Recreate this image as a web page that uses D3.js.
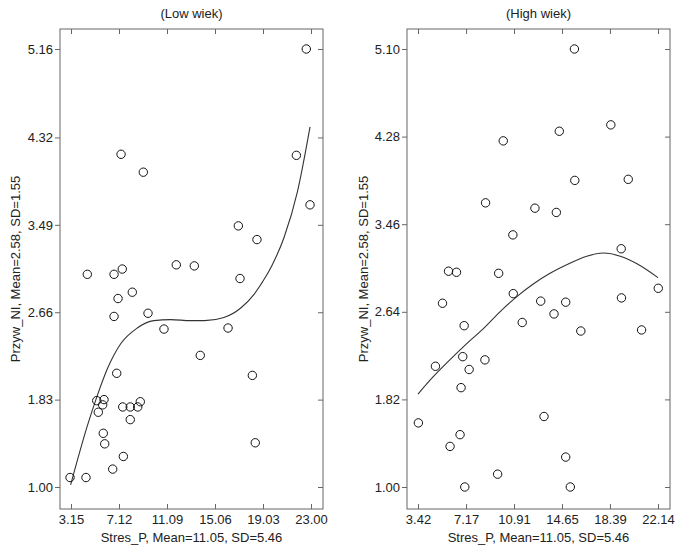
<!DOCTYPE html>
<html>
<head>
<meta charset="utf-8">
<script src="https://cdn.jsdelivr.net/npm/d3@7"></script>
<style>
  body { margin: 0; background: #fff; }
  svg text { font-family: "Liberation Sans", Arial, sans-serif; fill: #222; }
</style>
</head>
<body>
<div id="chart"></div>
<script>
// panel titles and axis labels
var panelTitles = ["(Low wiek)", "(High wiek)"];
var xLabel = "Stres_P, Mean=11.05, SD=5.46";
var yLabel = "Przyw_NI, Mean=2.58, SD=1.55";

// tick labels
var lowXTicks = [3.15, 7.12, 11.09, 15.06, 19.03, 23.00];
var lowYTicks = [1.00, 1.83, 2.66, 3.49, 4.32, 5.16];
var highXTicks = [3.42, 7.17, 10.91, 14.65, 18.39, 22.14];
var highYTicks = [1.00, 1.82, 2.64, 3.46, 4.28, 5.10];

// scatter points, low wiek  [stres, przyw]
var lowPoints = [
  [22.61, 5.16], [7.29, 4.16], [9.13, 3.99], [21.79, 4.15], [22.92, 3.68],
  [16.99, 3.48], [18.53, 3.35], [11.86, 3.11], [13.35, 3.10], [7.39, 3.07],
  [4.50, 3.02], [6.71, 3.02], [17.13, 2.98], [8.22, 2.85], [7.04, 2.79],
  [6.71, 2.62], [9.52, 2.65], [10.84, 2.50], [16.14, 2.51], [13.84, 2.25],
  [18.15, 2.06], [6.93, 2.08], [5.28, 1.82], [5.88, 1.83], [5.77, 1.78],
  [5.41, 1.71], [7.43, 1.76], [8.05, 1.76], [8.67, 1.76], [8.88, 1.81],
  [8.05, 1.64], [5.82, 1.51], [5.94, 1.41], [7.48, 1.29], [6.60, 1.17],
  [3.07, 1.09], [4.39, 1.09], [18.39, 1.42]
];
// fitted curve, low wiek
var lowFit = [
  [3.12, 1.02], [4.50, 1.58], [5.33, 1.87], [6.15, 2.12], [7.26, 2.36],
  [8.63, 2.51], [10.0, 2.58], [11.40, 2.59], [13.05, 2.58], [14.2, 2.58],
  [15.80, 2.61], [17.19, 2.70], [18.29, 2.83], [19.11, 2.97], [19.75, 3.10],
  [20.77, 3.37], [21.87, 3.80], [22.92, 4.42]
];

// scatter points, high wiek
var highPoints = [
  [15.62, 5.10], [18.46, 4.39], [14.44, 4.33], [10.07, 4.24], [15.65, 3.87],
  [19.82, 3.88], [8.69, 3.66], [12.54, 3.61], [14.21, 3.57], [10.82, 3.36],
  [19.27, 3.23], [5.80, 3.02], [6.42, 3.01], [9.71, 3.00], [22.16, 2.86],
  [10.85, 2.81], [19.29, 2.77], [12.99, 2.74], [14.94, 2.73], [5.33, 2.72],
  [14.03, 2.62], [7.02, 2.51], [11.55, 2.54], [16.12, 2.46], [20.86, 2.47],
  [6.91, 2.22], [8.64, 2.19], [4.78, 2.13], [7.41, 2.10], [6.78, 1.93],
  [3.45, 1.60], [13.25, 1.66], [6.70, 1.49], [5.92, 1.38], [14.94, 1.28],
  [9.63, 1.12], [7.07, 1.00], [15.30, 1.00]
];
// fitted curve, high wiek
var highFit = [
  [3.42, 1.87], [4.59, 2.03], [5.90, 2.19], [7.20, 2.34], [8.50, 2.48],
  [9.81, 2.64], [11.11, 2.78], [12.41, 2.90], [13.72, 3.00], [15.02, 3.08],
  [16.59, 3.16], [17.88, 3.19], [19.19, 3.16], [20.50, 3.09], [22.14, 2.96]
];

var width = 676, height = 549;

var svg = d3.select("#chart")
  .append("svg")
  .attr("width", width)
  .attr("height", height);

// layout of each panel (frame box + tick range)
var panels = [
  { title: panelTitles[0], points: lowPoints, fit: lowFit, xTicks: lowXTicks, yTicks: lowYTicks,
    frame: { left: 60, right: 323, top: 29, bottom: 509 },
    xRange: [71, 311], yRange: [487, 49], yLabelX: 15 },
  { title: panelTitles[1], points: highPoints, fit: highFit, xTicks: highXTicks, yTicks: highYTicks,
    frame: { left: 407, right: 670, top: 29, bottom: 509 },
    xRange: [418, 658], yRange: [487, 49], yLabelX: 363 }
];

panels.forEach(function(p) {
  var g = svg.append("g");
  var f = p.frame;

  var x = d3.scaleLinear()
    .domain([p.xTicks[0], p.xTicks[p.xTicks.length - 1]])
    .range(p.xRange);
  var y = d3.scaleLinear()
    .domain([p.yTicks[0], p.yTicks[p.yTicks.length - 1]])
    .range(p.yRange);

  // frame
  g.append("rect")
    .attr("x", f.left)
    .attr("y", f.top)
    .attr("width", f.right - f.left)
    .attr("height", f.bottom - f.top)
    .attr("fill", "none")
    .attr("stroke", "#666")
    .attr("stroke-width", 1);

  // axes
  var fmt = d3.format(".2f");
  var left = g.append("g")
    .attr("transform", `translate(${f.left},0)`)
    .call(d3.axisLeft(y).tickValues(p.yTicks).tickFormat(fmt).tickSize(5).tickPadding(2));
  var bottom = g.append("g")
    .attr("transform", `translate(0,${f.bottom})`)
    .call(d3.axisBottom(x).tickValues(p.xTicks).tickFormat(fmt).tickSize(-5).tickPadding(6));
  var top = g.append("g")
    .attr("transform", `translate(0,${f.top})`)
    .call(d3.axisTop(x).tickValues(p.xTicks).tickFormat("").tickSize(-5));
  var right = g.append("g")
    .attr("transform", `translate(${f.right},0)`)
    .call(d3.axisRight(y).tickValues(p.yTicks).tickFormat("").tickSize(-5));

  [left, bottom, top, right].forEach(function(a) {
    a.select(".domain").remove();
    a.selectAll("line").attr("stroke", "#666");
    a.selectAll("text")
      .style("font-family", '"Liberation Sans", Arial, sans-serif')
      .style("font-size", "13px")
      .attr("fill", "#222");
  });

  // fitted curve
  var line = d3.line()
    .x(d => x(d[0]))
    .y(d => y(d[1]))
    .curve(d3.curveMonotoneX);
  g.append("path")
    .datum(p.fit)
    .attr("d", line)
    .attr("fill", "none")
    .attr("stroke", "#333")
    .attr("stroke-width", 1.1);

  // scatter
  g.selectAll(".pt")
    .data(p.points)
    .enter()
    .append("circle")
    .attr("cx", d => x(d[0]))
    .attr("cy", d => y(d[1]))
    .attr("r", 4.2)
    .attr("fill", "none")
    .attr("stroke", "#111")
    .attr("stroke-width", 1);

  // title
  g.append("text")
    .attr("x", (f.left + f.right) / 2)
    .attr("y", 18)
    .style("text-anchor", "middle")
    .style("font-size", "13px")
    .text(p.title);

  // x label
  g.append("text")
    .attr("x", (f.left + f.right) / 2)
    .attr("y", 542)
    .style("text-anchor", "middle")
    .style("font-size", "13px")
    .text(xLabel);

  // y label
  g.append("text")
    .attr("transform", `translate(${p.yLabelX + 5},${(f.top + f.bottom) / 2}) rotate(-90)`)
    .style("text-anchor", "middle")
    .style("font-size", "13px")
    .text(yLabel);
});
</script>
</body>
</html>
